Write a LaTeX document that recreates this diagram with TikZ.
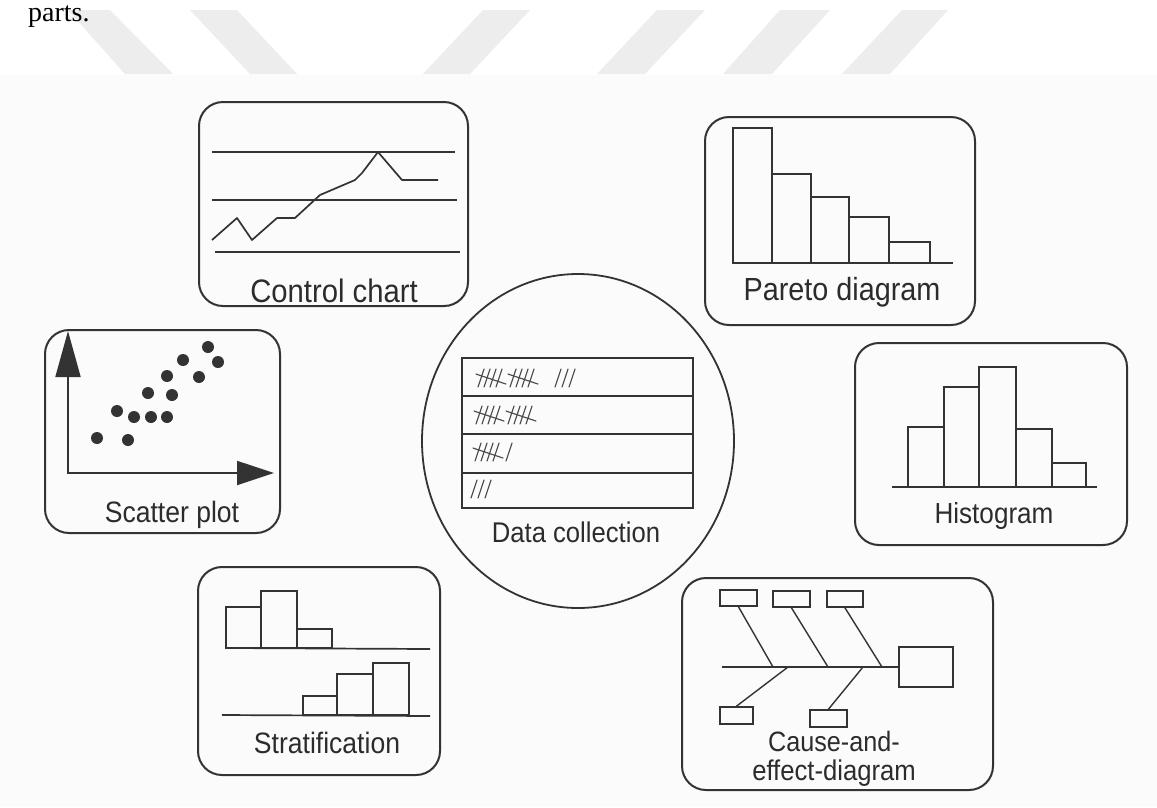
\documentclass[tikz,border=0pt]{standalone}
\usepackage{fontspec}
\setmainfont{Liberation Sans}
\newfontfamily\pageserif{Liberation Serif}
\newfontfamily\labelfont{Liberation Sans}[FakeStretch=0.9]
\usetikzlibrary{shapes.geometric,arrows.meta}

\definecolor{ink}{HTML}{333333}
\definecolor{txt}{HTML}{2C2C2C}
\definecolor{wmark}{HTML}{EDEDED}
\definecolor{paper}{HTML}{FBFBFB}

\tikzset{
  panel/.style={draw=ink, line width=2pt, rounded corners=24pt, inner sep=0pt},
  caption/.style={text=txt, inner sep=0pt, anchor=base},
  chartline/.style={draw=ink, line width=1.7pt, line join=round},
  bar/.style={draw=ink, line width=1.7pt},
  tallystroke/.style={draw=ink!90, line width=1.1pt, line cap=round},
  causebox/.style={draw=ink, line width=1.7pt, inner sep=0pt},
  bone/.style={draw=ink, line width=1.4pt},
  dot/.style={circle, fill=ink, inner sep=0pt, minimum size=12pt},
  axis/.style={draw=ink, line width=1.8pt},
}

% one bundle of five tally strokes, and a single stroke
\newcommand\tallygroup[2]{%
  \foreach \k in {0,...,3}
    \draw[tallystroke] ({#1+6*\k},{#2+9}) -- ({#1+6*\k+6},{#2-9});
  \draw[tallystroke] ({#1-2},{#2-4}) -- ({#1+28},{#2+6});}
\newcommand\tallyone[2]{%
  \draw[tallystroke] ({#1},{#2+9}) -- ({#1+6},{#2-9});}

\begin{document}
\begin{tikzpicture}[x=1pt, y=-1pt]
\useasboundingbox (0,0) rectangle (1157,807);
\fill[white] (0,0) rectangle (1157,807);
\fill[paper] (0,75) rectangle (1157,807);

% watermark stripes along the top
\fill[wmark] (68,10) -- (110,10) -- (173,74) -- (125,74) -- cycle;
\fill[wmark] (190,10) -- (237,10) -- (297,74) -- (250,74) -- cycle;
\fill[wmark] (483,10) -- (530,10) -- (470,74) -- (423,74) -- cycle;
\fill[wmark] (657,10) -- (705,10) -- (645,74) -- (597,74) -- cycle;
\fill[wmark] (780,10) -- (830,10) -- (772,74) -- (723,74) -- cycle;
\fill[wmark] (902,10) -- (948,10) -- (890,74) -- (842,74) -- cycle;

% end of the preceding paragraph
\node[anchor=base west, inner sep=0pt, font=\pageserif\fontsize{28}{30}\selectfont] (parts) at (28,21) {parts.};

% ---------- Control chart ----------
\node[panel, minimum width=269pt, minimum height=204pt] (cc) at (333.5,204) {};
\draw[chartline] (212,152) -- (455,152);
\draw[chartline] (212,200) -- (457,200);
\draw[chartline] (215,252) -- (460,252);
\draw[chartline] (212,240) -- (237,218) -- (252,240) -- (277,218) -- (295,218)
  -- (320,195) -- (355,180) -- (362,173) -- (378,152) -- (402,180) -- (438,180);
\node[caption, font=\labelfont\fontsize{32.5}{34}\selectfont] (cclabel) at (334,302) {Control chart};

% ---------- Pareto diagram ----------
\node[panel, minimum width=270pt, minimum height=208pt] (pd) at (840,221) {};
\draw[bar] (733,263) rectangle (772,128);
\draw[bar] (772,263) rectangle (811,174);
\draw[bar] (811,263) rectangle (849,197);
\draw[bar] (849,263) rectangle (889,217);
\draw[bar] (889,263) rectangle (930,242);
\draw[bar] (733,263) -- (953,263);
\node[caption, font=\labelfont\fontsize{32}{34}\selectfont] (pdlabel) at (842,300) {Pareto diagram};

% ---------- Scatter plot ----------
\node[panel, minimum width=235pt, minimum height=203pt] (sp) at (162.5,431.5) {};
\draw[axis, -{Triangle[length=46pt,width=25pt]}] (68,473) -- (68,331);
\draw[axis, -{Triangle[length=37pt,width=24pt]}] (67,473) -- (274,473);
\foreach \px/\py in {208/347,183/360,218/362,167/376,199/377,148/393,172/395,
                     117/411,134/417,151/417,167/417,97/438,128/440}
  \node[dot] at (\px,\py) {};
\node[caption, font=\labelfont\fontsize{29.5}{32}\selectfont] (splabel) at (172,522) {Scatter plot};

% ---------- Data collection ----------
\node[ellipse, draw=ink, line width=1.8pt, minimum width=312pt, minimum height=334pt, inner sep=0pt] (dc) at (578,441) {};
\draw[bar] (462,358) rectangle (693,508);
\draw[bar] (462,396) -- (693,396);
\draw[bar] (462,434) -- (693,434);
\draw[bar] (462,473) -- (693,473);
\tallygroup{478}{378}
\tallygroup{510}{378}
\tallyone{555}{378}
\tallyone{562}{378}
\tallyone{569}{378}
\tallygroup{476}{415}
\tallygroup{508}{415}
\tallygroup{475}{452}
\tallyone{506}{452}
\tallyone{471}{489}
\tallyone{478}{489}
\tallyone{485}{489}
\node[caption, font=\labelfont\fontsize{28.5}{31}\selectfont] (dclabel) at (576,542) {Data collection};

% ---------- Histogram ----------
\node[panel, minimum width=272pt, minimum height=202pt] (hg) at (991,444) {};
\draw[bar] (908,487) rectangle (944,427);
\draw[bar] (944,487) rectangle (979,387);
\draw[bar] (979,487) rectangle (1016,367);
\draw[bar] (1016,487) rectangle (1052,429);
\draw[bar] (1052,487) rectangle (1086,463);
\draw[bar] (892,487) -- (1097,487);
\node[caption, font=\labelfont\fontsize{29}{31}\selectfont] (hglabel) at (994,523) {Histogram};

% ---------- Stratification ----------
\node[panel, minimum width=242pt, minimum height=208pt] (st) at (319,671) {};
\draw[bar] (226,648) rectangle (261,607);
\draw[bar] (261,648) rectangle (297,591);
\draw[bar] (297,648) rectangle (332,629);
\draw[bar] (226,648) -- (430,649);
\draw[bar] (303,715) rectangle (337,696);
\draw[bar] (337,715) rectangle (373,674);
\draw[bar] (373,715) rectangle (409,663);
\draw[bar] (222,715) -- (430,716);
\node[caption, font=\labelfont\fontsize{29.5}{32}\selectfont] (stlabel) at (327,753) {Stratification};

% ---------- Cause-and-effect diagram ----------
\node[panel, minimum width=311pt, minimum height=212pt] (ce) at (837.5,684) {};
\node[causebox, minimum width=37pt, minimum height=16pt] (c1) at (738.5,598) {};
\node[causebox, minimum width=37pt, minimum height=16pt] (c2) at (791.5,599) {};
\node[causebox, minimum width=36pt, minimum height=16pt] (c3) at (845,599) {};
\node[causebox, minimum width=33pt, minimum height=17pt] (b1) at (736.5,715.5) {};
\node[causebox, minimum width=37pt, minimum height=17pt] (b2) at (828.5,718.5) {};
\node[causebox, minimum width=54pt, minimum height=40pt] (eff) at (926,667) {};
\coordinate (s0) at (722,667);
\coordinate (j1) at (773,667);
\coordinate (j2) at (828,667);
\coordinate (j3) at (882,667);
\coordinate (j4) at (788,667);
\coordinate (j5) at (863,667);
\draw[bone] (s0) -- (eff.west);
\draw[bone] (c1.south) -- (j1);
\draw[bone] (c2.south) -- (j2);
\draw[bone] (c3.south) -- (j3);
\draw[bone] (b1.north) -- (j4);
\draw[bone] (b2.north) -- (j5);
\node[caption, font=\labelfont\fontsize{28}{30}\selectfont] (celabel1) at (834,751.5) {Cause-and-};
\node[caption, font=\labelfont\fontsize{28.5}{30}\selectfont] (celabel2) at (834,780) {effect-diagram};
\end{tikzpicture}
\end{document}
